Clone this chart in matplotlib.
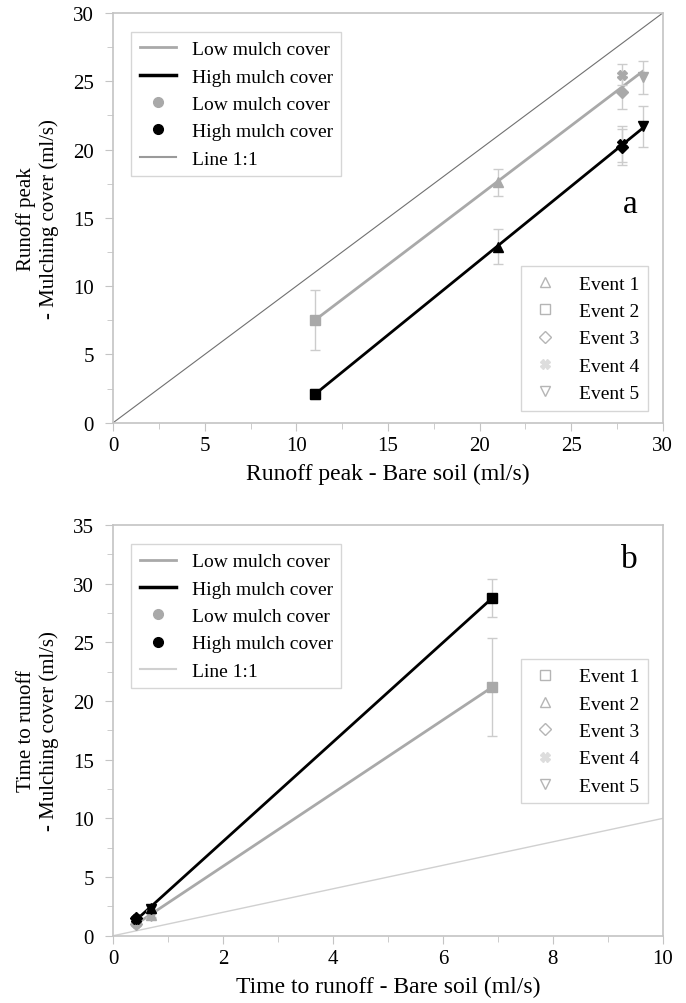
import numpy as np
import matplotlib.pyplot as plt
from matplotlib.lines import Line2D
from matplotlib.ticker import MultipleLocator

plt.rcParams['font.family'] = ['Liberation Serif', 'DejaVu Serif']

# panel a: runoff peak (ml/s), events 1..5
a_bare = [21.0, 11.0, 27.8, 27.8, 28.9]
a_low = [17.6, 7.5, 24.2, 25.5, 25.3]
a_low_err = [1.0, 2.2, 1.2, 0.8, 1.2]
a_high = [12.9, 2.1, 20.2, 20.4, 21.7]
a_high_err = [1.3, 0.4, 1.3, 1.3, 1.5]
a_marks = ['^', 's', 'D', 'X', 'v']

# panel b: time to runoff, events 1..5
b_bare = [6.9, 0.68, 0.42, 0.42, 0.68]
b_low = [21.2, 1.8, 1.0, 1.1, 1.7]
b_low_err = [4.2, 0.2, 0.2, 0.2, 0.2]
b_high = [28.8, 2.4, 1.5, 1.4, 2.3]
b_high_err = [1.6, 0.2, 0.2, 0.2, 0.2]
b_marks = ['s', '^', 'D', 'X', 'v']

events = ['Event 1', 'Event 2', 'Event 3', 'Event 4', 'Event 5']
GRAY = '#a9a9a9'
ERR = '#cccccc'
SPINE = '#c4c4c4'

fig = plt.figure(figsize=(6.86, 10.04), dpi=100)
ax1 = fig.add_axes([0.165, 0.578, 0.801, 0.408])
ax2 = fig.add_axes([0.165, 0.067, 0.801, 0.409])


def draw(ax, bare, low, low_err, high, high_err, marks):
    for x, y, e, m in zip(bare, low, low_err, marks):
        ax.errorbar(x, y, yerr=e, fmt=m, color=GRAY, ms=7 if m != 'D' else 6,
                    ecolor=ERR, elinewidth=1, capsize=3.5, capthick=1, zorder=3)
    for x, y, e, m in zip(bare, high, high_err, marks):
        ax.errorbar(x, y, yerr=e, fmt=m, color='black', ms=7 if m != 'D' else 6,
                    ecolor=ERR, elinewidth=1, capsize=3.5, capthick=1, zorder=4)
    xs = np.array([min(bare), max(bare)])
    for ys, c in [(low, GRAY), (high, 'black')]:
        k, b = np.polyfit(bare, ys, 1)
        ax.plot(xs, k * xs + b, color=c, lw=2, zorder=2)


def style(ax, xmax, ymax, xminor, yminor):
    ax.set_xlim(0, xmax)
    ax.set_ylim(0, ymax)
    ax.xaxis.set_minor_locator(MultipleLocator(xminor))
    ax.yaxis.set_minor_locator(MultipleLocator(yminor))
    for s in ax.spines.values():
        s.set_color(SPINE)
        s.set_linewidth(1.2)
    ax.tick_params(which='both', direction='out', color=SPINE, labelsize=15)
    ax.tick_params(which='major', length=6)
    ax.tick_params(which='minor', length=4)
    ax.tick_params(axis='y', pad=8)


def legend_kw():
    return dict(fontsize=14, frameon=True, fancybox=False, edgecolor='#cccccc',
                labelspacing=0.5, borderpad=0.45, borderaxespad=0)


def legends(ax, line11_color, marks):
    h1 = [Line2D([], [], color=GRAY, lw=2),
          Line2D([], [], color='black', lw=2.5),
          Line2D([], [], color=GRAY, marker='o', ls='none', ms=7),
          Line2D([], [], color='black', marker='o', ls='none', ms=7),
          Line2D([], [], color=line11_color, lw=1.5)]
    lab1 = ['Low mulch cover', 'High mulch cover', 'Low mulch cover',
            'High mulch cover', 'Line 1:1']
    leg1 = ax.legend(h1, lab1, loc='upper left', bbox_to_anchor=(0.033, 0.954),
                     handlelength=1.85, handletextpad=0.8, **legend_kw())
    leg1.get_frame().set_linewidth(1)
    ax.add_artist(leg1)
    h2 = []
    for m in marks:
        if m == 'X':
            h2.append(Line2D([], [], marker='X', ls='none', color='#dddddd', ms=7))
        else:
            h2.append(Line2D([], [], marker=m, ls='none', mfc='none',
                             mec='#b5b5b5', ms=7 if m != 'D' else 6))
    return h2


# ---- panel a
draw(ax1, a_bare, a_low, a_low_err, a_high, a_high_err, a_marks)
ax1.plot([0, 30], [0, 30], color='#707070', lw=0.8, zorder=1)
style(ax1, 30, 30, 2.5, 2.5)
ax1.set_xticks(range(0, 31, 5))
ax1.set_yticks(range(0, 31, 5))
ax1.set_xlabel('Runoff peak - Bare soil (ml/s)', fontsize=17, labelpad=6)
ax1.set_ylabel('Runoff peak\n- Mulching cover (ml/s)', fontsize=15, labelpad=10)
ax1.text(0.955, 0.534, 'a', transform=ax1.transAxes, fontsize=24, ha='right', va='center')
h2 = legends(ax1, '#9a9a9a', a_marks)
leg2 = ax1.legend(h2, events, loc='lower right', bbox_to_anchor=(0.973, 0.029),
                  handlelength=1.5, handletextpad=1.0, **legend_kw())
leg2.get_frame().set_linewidth(1)

# ---- panel b
draw(ax2, b_bare, b_low, b_low_err, b_high, b_high_err, b_marks)
ax2.plot([0, 10], [0, 10], color='#d0d0d0', lw=1, zorder=1)
style(ax2, 10, 35, 1, 2.5)
ax2.set_xticks(range(0, 11, 2))
ax2.set_yticks(range(0, 36, 5))
ax2.set_xlabel('Time to runoff - Bare soil (ml/s)', fontsize=17, labelpad=6)
ax2.set_ylabel('Time to runoff\n- Mulching cover (ml/s)', fontsize=15, labelpad=10)
ax2.text(0.955, 0.917, 'b', transform=ax2.transAxes, fontsize=24, ha='right', va='center')
h2 = legends(ax2, '#d0d0d0', b_marks)
leg2 = ax2.legend(h2, events, loc='upper right', bbox_to_anchor=(0.973, 0.674),
                  handlelength=1.5, handletextpad=1.0, **legend_kw())
leg2.get_frame().set_linewidth(1)

fig.savefig('out.png', dpi=100)
